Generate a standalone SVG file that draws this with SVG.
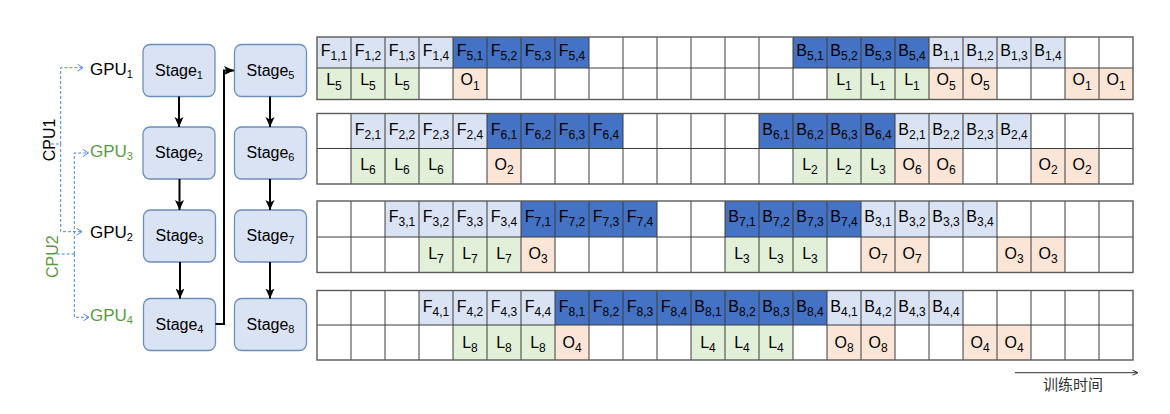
<svg xmlns="http://www.w3.org/2000/svg" width="1170" height="414" viewBox="0 0 1170 414">
<style>
text{font-family:"Liberation Sans",Arial,sans-serif;fill:#000}
.t{font-size:16px;text-anchor:middle}
.s{font-size:11px}
.c .s{font-size:12px}
.lb{fill:#dae3f3}
.db{fill:#4472c4}
.g{fill:#e2f0d9}
.o{fill:#fbe5d6}
.grid{fill:none;stroke:#3c3c3c;stroke-width:1}
.outer{fill:none;stroke:#5a5a5a;stroke-width:1.4}
.stage{fill:#dae3f3;stroke:#6c8ebf;stroke-width:1.3}
.flow{fill:none;stroke:#000;stroke-width:2}
.dash{fill:none;stroke:#4f86e0;stroke-width:1;stroke-dasharray:3 2}
.gpu{font-size:17px}
.green{fill:#5b9b3a}
</style>
<defs>
<marker id="ah" viewBox="0 0 10 10" refX="10" refY="5" markerWidth="10" markerHeight="10" markerUnits="userSpaceOnUse" orient="auto"><path d="M0,0.5 L10,5 L0,9.5 L2.5,5z" fill="#000"/></marker>
<marker id="oa" viewBox="0 0 6 8" refX="6" refY="4" markerWidth="6" markerHeight="8" markerUnits="userSpaceOnUse" orient="auto"><path d="M0.5,0.5 L6,4 L0.5,7.5" fill="none" stroke="#4f86e0" stroke-width="1"/></marker>
<marker id="ta" viewBox="0 0 6 6" refX="6" refY="3" markerWidth="6" markerHeight="6" markerUnits="userSpaceOnUse" orient="auto"><path d="M0.5,0.5 L6,3 L0.5,5.5" fill="none" stroke="#333" stroke-width="1"/></marker>
</defs>

<!-- Stage nodes -->
<g id="stage1"><rect class="stage" x="143" y="44.5" width="72" height="52" rx="7"/><text class="t" x="179" y="75.5">Stage<tspan class="s" dy="3">1</tspan></text></g>
<g id="stage2"><rect class="stage" x="143" y="127" width="72" height="52" rx="7"/><text class="t" x="179" y="158">Stage<tspan class="s" dy="3">2</tspan></text></g>
<g id="stage3"><rect class="stage" x="143.5" y="210" width="72" height="52" rx="7"/><text class="t" x="179.5" y="241">Stage<tspan class="s" dy="3">3</tspan></text></g>
<g id="stage4"><rect class="stage" x="143.5" y="298.5" width="72" height="52" rx="7"/><text class="t" x="179.5" y="329.5">Stage<tspan class="s" dy="3">4</tspan></text></g>
<g id="stage5"><rect class="stage" x="234.5" y="44.5" width="72" height="52" rx="7"/><text class="t" x="270.5" y="75.5">Stage<tspan class="s" dy="3">5</tspan></text></g>
<g id="stage6"><rect class="stage" x="234.5" y="127" width="72" height="52" rx="7"/><text class="t" x="270.5" y="158">Stage<tspan class="s" dy="3">6</tspan></text></g>
<g id="stage7"><rect class="stage" x="234.5" y="210" width="72" height="52" rx="7"/><text class="t" x="270.5" y="241">Stage<tspan class="s" dy="3">7</tspan></text></g>
<g id="stage8"><rect class="stage" x="234.5" y="298.5" width="72" height="52" rx="7"/><text class="t" x="270.5" y="329.5">Stage<tspan class="s" dy="3">8</tspan></text></g>

<!-- GPU / CPU labels -->
<g id="gpu1"><text class="gpu" x="90" y="75">GPU<tspan class="s" dy="3">1</tspan></text></g>
<g id="gpu3"><text class="gpu green" x="90" y="156.7">GPU<tspan class="s" dy="3">3</tspan></text></g>
<g id="gpu2"><text class="gpu" x="90" y="238.3">GPU<tspan class="s" dy="3">2</tspan></text></g>
<g id="gpu4"><text class="gpu green" x="90" y="320.7">GPU<tspan class="s" dy="3">4</tspan></text></g>
<g id="cpu1"><text class="t" transform="translate(55,140) rotate(-90)">CPU1</text></g>
<g id="cpu2"><text class="t green" transform="translate(58,256.7) rotate(-90)">CPU2</text></g>

<!-- Connectors -->
<g id="connectors">
<path class="flow" d="M179,96.5V127" marker-end="url(#ah)"/>
<path class="flow" d="M179.5,179V210" marker-end="url(#ah)"/>
<path class="flow" d="M180,262V298.5" marker-end="url(#ah)"/>
<path class="flow" d="M270,96.5V127" marker-end="url(#ah)"/>
<path class="flow" d="M270,179V210" marker-end="url(#ah)"/>
<path class="flow" d="M270,262V298.5" marker-end="url(#ah)"/>
<path class="flow" d="M215.5,324H224V70.5H234" marker-end="url(#ah)"/>
<path class="dash" d="M51,144H60.7"/>
<path class="dash" d="M60.7,144V67.7H83" marker-end="url(#oa)"/>
<path class="dash" d="M60.7,144V231.7H82" marker-end="url(#oa)"/>
<path class="dash" d="M56.7,254H74.3"/>
<path class="dash" d="M74.3,254V153H88.5" marker-end="url(#oa)"/>
<path class="dash" d="M74.3,254V317.3H89" marker-end="url(#oa)"/>
</g>

<!-- Timeline block 1 (GPU1) -->
<g id="timeline1" class="c">
<rect x="317" y="37" width="816" height="62.5" fill="#fff"/>
<rect class="lb" x="317" y="37" width="34" height="31"/><rect class="lb" x="351" y="37" width="34" height="31"/><rect class="lb" x="385" y="37" width="34" height="31"/><rect class="lb" x="419" y="37" width="34" height="31"/>
<rect class="db" x="453" y="37" width="34" height="31"/><rect class="db" x="487" y="37" width="34" height="31"/><rect class="db" x="521" y="37" width="34" height="31"/><rect class="db" x="555" y="37" width="34" height="31"/>
<rect class="db" x="793" y="37" width="34" height="31"/><rect class="db" x="827" y="37" width="34" height="31"/><rect class="db" x="861" y="37" width="34" height="31"/><rect class="db" x="895" y="37" width="34" height="31"/>
<rect class="lb" x="929" y="37" width="34" height="31"/><rect class="lb" x="963" y="37" width="34" height="31"/><rect class="lb" x="997" y="37" width="34" height="31"/><rect class="lb" x="1031" y="37" width="34" height="31"/>
<rect class="g" x="317" y="68" width="34" height="31.5"/><rect class="g" x="351" y="68" width="34" height="31.5"/><rect class="g" x="385" y="68" width="34" height="31.5"/>
<rect class="o" x="453" y="68" width="34" height="31.5"/>
<rect class="g" x="827" y="68" width="34" height="31.5"/><rect class="g" x="861" y="68" width="34" height="31.5"/><rect class="g" x="895" y="68" width="34" height="31.5"/>
<rect class="o" x="929" y="68" width="34" height="31.5"/><rect class="o" x="963" y="68" width="34" height="31.5"/>
<rect class="o" x="1065" y="68" width="34" height="31.5"/><rect class="o" x="1099" y="68" width="34" height="31.5"/>
<path class="grid" d="M317,68H1133M351,37v62.5M385,37v62.5M419,37v62.5M453,37v62.5M487,37v62.5M521,37v62.5M555,37v62.5M589,37v62.5M623,37v62.5M657,37v62.5M691,37v62.5M725,37v62.5M759,37v62.5M793,37v62.5M827,37v62.5M861,37v62.5M895,37v62.5M929,37v62.5M963,37v62.5M997,37v62.5M1031,37v62.5M1065,37v62.5M1099,37v62.5"/>
<rect class="outer" x="317" y="37" width="816" height="62.5"/>
<text class="t" x="334" y="56">F<tspan class="s" dy="4">1,1</tspan></text>
<text class="t" x="368" y="56">F<tspan class="s" dy="4">1,2</tspan></text>
<text class="t" x="402" y="56">F<tspan class="s" dy="4">1,3</tspan></text>
<text class="t" x="436" y="56">F<tspan class="s" dy="4">1,4</tspan></text>
<text class="t" x="470" y="56">F<tspan class="s" dy="4">5,1</tspan></text>
<text class="t" x="504" y="56">F<tspan class="s" dy="4">5,2</tspan></text>
<text class="t" x="538" y="56">F<tspan class="s" dy="4">5,3</tspan></text>
<text class="t" x="572" y="56">F<tspan class="s" dy="4">5,4</tspan></text>
<text class="t" x="810" y="56">B<tspan class="s" dy="4">5,1</tspan></text>
<text class="t" x="844" y="56">B<tspan class="s" dy="4">5,2</tspan></text>
<text class="t" x="878" y="56">B<tspan class="s" dy="4">5,3</tspan></text>
<text class="t" x="912" y="56">B<tspan class="s" dy="4">5,4</tspan></text>
<text class="t" x="946" y="56">B<tspan class="s" dy="4">1,1</tspan></text>
<text class="t" x="980" y="56">B<tspan class="s" dy="4">1,2</tspan></text>
<text class="t" x="1014" y="56">B<tspan class="s" dy="4">1,3</tspan></text>
<text class="t" x="1048" y="56">B<tspan class="s" dy="4">1,4</tspan></text>
<text class="t" x="334" y="85">L<tspan class="s" dy="5">5</tspan></text>
<text class="t" x="368" y="85">L<tspan class="s" dy="5">5</tspan></text>
<text class="t" x="402" y="85">L<tspan class="s" dy="5">5</tspan></text>
<text class="t" x="470" y="85">O<tspan class="s" dy="5">1</tspan></text>
<text class="t" x="844" y="85">L<tspan class="s" dy="5">1</tspan></text>
<text class="t" x="878" y="85">L<tspan class="s" dy="5">1</tspan></text>
<text class="t" x="912" y="85">L<tspan class="s" dy="5">1</tspan></text>
<text class="t" x="946" y="85">O<tspan class="s" dy="5">5</tspan></text>
<text class="t" x="980" y="85">O<tspan class="s" dy="5">5</tspan></text>
<text class="t" x="1082" y="85">O<tspan class="s" dy="5">1</tspan></text>
<text class="t" x="1116" y="85">O<tspan class="s" dy="5">1</tspan></text>
</g>

<!-- Timeline block 2 (GPU3) -->
<g id="timeline2" class="c">
<rect x="317" y="113.5" width="816" height="70.5" fill="#fff"/>
<rect class="lb" x="351" y="113.5" width="34" height="35"/><rect class="lb" x="385" y="113.5" width="34" height="35"/><rect class="lb" x="419" y="113.5" width="34" height="35"/><rect class="lb" x="453" y="113.5" width="34" height="35"/>
<rect class="db" x="487" y="113.5" width="34" height="35"/><rect class="db" x="521" y="113.5" width="34" height="35"/><rect class="db" x="555" y="113.5" width="34" height="35"/><rect class="db" x="589" y="113.5" width="34" height="35"/>
<rect class="db" x="759" y="113.5" width="34" height="35"/><rect class="db" x="793" y="113.5" width="34" height="35"/><rect class="db" x="827" y="113.5" width="34" height="35"/><rect class="db" x="861" y="113.5" width="34" height="35"/>
<rect class="lb" x="895" y="113.5" width="34" height="35"/><rect class="lb" x="929" y="113.5" width="34" height="35"/><rect class="lb" x="963" y="113.5" width="34" height="35"/><rect class="lb" x="997" y="113.5" width="34" height="35"/>
<rect class="g" x="351" y="148.5" width="34" height="35.5"/><rect class="g" x="385" y="148.5" width="34" height="35.5"/><rect class="g" x="419" y="148.5" width="34" height="35.5"/>
<rect class="o" x="487" y="148.5" width="34" height="35.5"/>
<rect class="g" x="793" y="148.5" width="34" height="35.5"/><rect class="g" x="827" y="148.5" width="34" height="35.5"/><rect class="g" x="861" y="148.5" width="34" height="35.5"/>
<rect class="o" x="895" y="148.5" width="34" height="35.5"/><rect class="o" x="929" y="148.5" width="34" height="35.5"/>
<rect class="o" x="1031" y="148.5" width="34" height="35.5"/><rect class="o" x="1065" y="148.5" width="34" height="35.5"/>
<path class="grid" d="M317,148.5H1133M351,113.5v70.5M385,113.5v70.5M419,113.5v70.5M453,113.5v70.5M487,113.5v70.5M521,113.5v70.5M555,113.5v70.5M589,113.5v70.5M623,113.5v70.5M657,113.5v70.5M691,113.5v70.5M725,113.5v70.5M759,113.5v70.5M793,113.5v70.5M827,113.5v70.5M861,113.5v70.5M895,113.5v70.5M929,113.5v70.5M963,113.5v70.5M997,113.5v70.5M1031,113.5v70.5M1065,113.5v70.5M1099,113.5v70.5"/>
<rect class="outer" x="317" y="113.5" width="816" height="70.5"/>
<text class="t" x="368" y="135">F<tspan class="s" dy="4">2,1</tspan></text>
<text class="t" x="402" y="135">F<tspan class="s" dy="4">2,2</tspan></text>
<text class="t" x="436" y="135">F<tspan class="s" dy="4">2,3</tspan></text>
<text class="t" x="470" y="135">F<tspan class="s" dy="4">2,4</tspan></text>
<text class="t" x="504" y="135">F<tspan class="s" dy="4">6,1</tspan></text>
<text class="t" x="538" y="135">F<tspan class="s" dy="4">6,2</tspan></text>
<text class="t" x="572" y="135">F<tspan class="s" dy="4">6,3</tspan></text>
<text class="t" x="606" y="135">F<tspan class="s" dy="4">6,4</tspan></text>
<text class="t" x="776" y="135">B<tspan class="s" dy="4">6,1</tspan></text>
<text class="t" x="810" y="135">B<tspan class="s" dy="4">6,2</tspan></text>
<text class="t" x="844" y="135">B<tspan class="s" dy="4">6,3</tspan></text>
<text class="t" x="878" y="135">B<tspan class="s" dy="4">6,4</tspan></text>
<text class="t" x="912" y="135">B<tspan class="s" dy="4">2,1</tspan></text>
<text class="t" x="946" y="135">B<tspan class="s" dy="4">2,2</tspan></text>
<text class="t" x="980" y="135">B<tspan class="s" dy="4">2,3</tspan></text>
<text class="t" x="1014" y="135">B<tspan class="s" dy="4">2,4</tspan></text>
<text class="t" x="368" y="170">L<tspan class="s" dy="4">6</tspan></text>
<text class="t" x="402" y="170">L<tspan class="s" dy="4">6</tspan></text>
<text class="t" x="436" y="170">L<tspan class="s" dy="4">6</tspan></text>
<text class="t" x="504" y="170">O<tspan class="s" dy="4">2</tspan></text>
<text class="t" x="810" y="170">L<tspan class="s" dy="4">2</tspan></text>
<text class="t" x="844" y="170">L<tspan class="s" dy="4">2</tspan></text>
<text class="t" x="878" y="170">L<tspan class="s" dy="4">3</tspan></text>
<text class="t" x="912" y="170">O<tspan class="s" dy="4">6</tspan></text>
<text class="t" x="946" y="170">O<tspan class="s" dy="4">6</tspan></text>
<text class="t" x="1048" y="170">O<tspan class="s" dy="4">2</tspan></text>
<text class="t" x="1082" y="170">O<tspan class="s" dy="4">2</tspan></text>
</g>

<!-- Timeline block 3 (GPU2) -->
<g id="timeline3" class="c">
<rect x="317" y="201" width="816" height="71.5" fill="#fff"/>
<rect class="lb" x="385" y="201" width="34" height="36"/><rect class="lb" x="419" y="201" width="34" height="36"/><rect class="lb" x="453" y="201" width="34" height="36"/><rect class="lb" x="487" y="201" width="34" height="36"/>
<rect class="db" x="521" y="201" width="34" height="36"/><rect class="db" x="555" y="201" width="34" height="36"/><rect class="db" x="589" y="201" width="34" height="36"/><rect class="db" x="623" y="201" width="34" height="36"/>
<rect class="db" x="725" y="201" width="34" height="36"/><rect class="db" x="759" y="201" width="34" height="36"/><rect class="db" x="793" y="201" width="34" height="36"/><rect class="db" x="827" y="201" width="34" height="36"/>
<rect class="lb" x="861" y="201" width="34" height="36"/><rect class="lb" x="895" y="201" width="34" height="36"/><rect class="lb" x="929" y="201" width="34" height="36"/><rect class="lb" x="963" y="201" width="34" height="36"/>
<rect class="g" x="419" y="237" width="34" height="35.5"/><rect class="g" x="453" y="237" width="34" height="35.5"/><rect class="g" x="487" y="237" width="34" height="35.5"/>
<rect class="o" x="521" y="237" width="34" height="35.5"/>
<rect class="g" x="725" y="237" width="34" height="35.5"/><rect class="g" x="759" y="237" width="34" height="35.5"/><rect class="g" x="793" y="237" width="34" height="35.5"/>
<rect class="o" x="861" y="237" width="34" height="35.5"/><rect class="o" x="895" y="237" width="34" height="35.5"/>
<rect class="o" x="997" y="237" width="34" height="35.5"/><rect class="o" x="1031" y="237" width="34" height="35.5"/>
<path class="grid" d="M317,237H1133M351,201v71.5M385,201v71.5M419,201v71.5M453,201v71.5M487,201v71.5M521,201v71.5M555,201v71.5M589,201v71.5M623,201v71.5M657,201v71.5M691,201v71.5M725,201v71.5M759,201v71.5M793,201v71.5M827,201v71.5M861,201v71.5M895,201v71.5M929,201v71.5M963,201v71.5M997,201v71.5M1031,201v71.5M1065,201v71.5M1099,201v71.5"/>
<rect class="outer" x="317" y="201" width="816" height="71.5"/>
<text class="t" x="402" y="222">F<tspan class="s" dy="4">3,1</tspan></text>
<text class="t" x="436" y="222">F<tspan class="s" dy="4">3,2</tspan></text>
<text class="t" x="470" y="222">F<tspan class="s" dy="4">3,3</tspan></text>
<text class="t" x="504" y="222">F<tspan class="s" dy="4">3,4</tspan></text>
<text class="t" x="538" y="222">F<tspan class="s" dy="4">7,1</tspan></text>
<text class="t" x="572" y="222">F<tspan class="s" dy="4">7,2</tspan></text>
<text class="t" x="606" y="222">F<tspan class="s" dy="4">7,3</tspan></text>
<text class="t" x="640" y="222">F<tspan class="s" dy="4">7,4</tspan></text>
<text class="t" x="742" y="222">B<tspan class="s" dy="4">7,1</tspan></text>
<text class="t" x="776" y="222">B<tspan class="s" dy="4">7,2</tspan></text>
<text class="t" x="810" y="222">B<tspan class="s" dy="4">7,3</tspan></text>
<text class="t" x="844" y="222">B<tspan class="s" dy="4">7,4</tspan></text>
<text class="t" x="878" y="222">B<tspan class="s" dy="4">3,1</tspan></text>
<text class="t" x="912" y="222">B<tspan class="s" dy="4">3,2</tspan></text>
<text class="t" x="946" y="222">B<tspan class="s" dy="4">3,3</tspan></text>
<text class="t" x="980" y="222">B<tspan class="s" dy="4">3,4</tspan></text>
<text class="t" x="436" y="258.5">L<tspan class="s" dy="4">7</tspan></text>
<text class="t" x="470" y="258.5">L<tspan class="s" dy="4">7</tspan></text>
<text class="t" x="504" y="258.5">L<tspan class="s" dy="4">7</tspan></text>
<text class="t" x="538" y="258.5">O<tspan class="s" dy="4">3</tspan></text>
<text class="t" x="742" y="258.5">L<tspan class="s" dy="4">3</tspan></text>
<text class="t" x="776" y="258.5">L<tspan class="s" dy="4">3</tspan></text>
<text class="t" x="810" y="258.5">L<tspan class="s" dy="4">3</tspan></text>
<text class="t" x="878" y="258.5">O<tspan class="s" dy="4">7</tspan></text>
<text class="t" x="912" y="258.5">O<tspan class="s" dy="4">7</tspan></text>
<text class="t" x="1014" y="258.5">O<tspan class="s" dy="4">3</tspan></text>
<text class="t" x="1048" y="258.5">O<tspan class="s" dy="4">3</tspan></text>
</g>

<!-- Timeline block 4 (GPU4) -->
<g id="timeline4" class="c">
<rect x="317" y="290.5" width="816" height="69.5" fill="#fff"/>
<rect class="lb" x="419" y="290.5" width="34" height="34.5"/><rect class="lb" x="453" y="290.5" width="34" height="34.5"/><rect class="lb" x="487" y="290.5" width="34" height="34.5"/><rect class="lb" x="521" y="290.5" width="34" height="34.5"/>
<rect class="db" x="555" y="290.5" width="34" height="34.5"/><rect class="db" x="589" y="290.5" width="34" height="34.5"/><rect class="db" x="623" y="290.5" width="34" height="34.5"/><rect class="db" x="657" y="290.5" width="34" height="34.5"/>
<rect class="db" x="691" y="290.5" width="34" height="34.5"/><rect class="db" x="725" y="290.5" width="34" height="34.5"/><rect class="db" x="759" y="290.5" width="34" height="34.5"/><rect class="db" x="793" y="290.5" width="34" height="34.5"/>
<rect class="lb" x="827" y="290.5" width="34" height="34.5"/><rect class="lb" x="861" y="290.5" width="34" height="34.5"/><rect class="lb" x="895" y="290.5" width="34" height="34.5"/><rect class="lb" x="929" y="290.5" width="34" height="34.5"/>
<rect class="g" x="453" y="325" width="34" height="35"/><rect class="g" x="487" y="325" width="34" height="35"/><rect class="g" x="521" y="325" width="34" height="35"/>
<rect class="o" x="555" y="325" width="34" height="35"/>
<rect class="g" x="691" y="325" width="34" height="35"/><rect class="g" x="725" y="325" width="34" height="35"/><rect class="g" x="759" y="325" width="34" height="35"/>
<rect class="o" x="827" y="325" width="34" height="35"/><rect class="o" x="861" y="325" width="34" height="35"/>
<rect class="o" x="963" y="325" width="34" height="35"/><rect class="o" x="997" y="325" width="34" height="35"/>
<path class="grid" d="M317,325H1133M351,290.5v69.5M385,290.5v69.5M419,290.5v69.5M453,290.5v69.5M487,290.5v69.5M521,290.5v69.5M555,290.5v69.5M589,290.5v69.5M623,290.5v69.5M657,290.5v69.5M691,290.5v69.5M725,290.5v69.5M759,290.5v69.5M793,290.5v69.5M827,290.5v69.5M861,290.5v69.5M895,290.5v69.5M929,290.5v69.5M963,290.5v69.5M997,290.5v69.5M1031,290.5v69.5M1065,290.5v69.5M1099,290.5v69.5"/>
<rect class="outer" x="317" y="290.5" width="816" height="69.5"/>
<text class="t" x="436" y="311.5">F<tspan class="s" dy="4">4,1</tspan></text>
<text class="t" x="470" y="311.5">F<tspan class="s" dy="4">4,2</tspan></text>
<text class="t" x="504" y="311.5">F<tspan class="s" dy="4">4,3</tspan></text>
<text class="t" x="538" y="311.5">F<tspan class="s" dy="4">4,4</tspan></text>
<text class="t" x="572" y="311.5">F<tspan class="s" dy="4">8,1</tspan></text>
<text class="t" x="606" y="311.5">F<tspan class="s" dy="4">8,2</tspan></text>
<text class="t" x="640" y="311.5">F<tspan class="s" dy="4">8,3</tspan></text>
<text class="t" x="674" y="311.5">F<tspan class="s" dy="4">8,4</tspan></text>
<text class="t" x="708" y="311.5">B<tspan class="s" dy="4">8,1</tspan></text>
<text class="t" x="742" y="311.5">B<tspan class="s" dy="4">8,2</tspan></text>
<text class="t" x="776" y="311.5">B<tspan class="s" dy="4">8,3</tspan></text>
<text class="t" x="810" y="311.5">B<tspan class="s" dy="4">8,4</tspan></text>
<text class="t" x="844" y="311.5">B<tspan class="s" dy="4">4,1</tspan></text>
<text class="t" x="878" y="311.5">B<tspan class="s" dy="4">4,2</tspan></text>
<text class="t" x="912" y="311.5">B<tspan class="s" dy="4">4,3</tspan></text>
<text class="t" x="946" y="311.5">B<tspan class="s" dy="4">4,4</tspan></text>
<text class="t" x="470" y="348">L<tspan class="s" dy="4">8</tspan></text>
<text class="t" x="504" y="348">L<tspan class="s" dy="4">8</tspan></text>
<text class="t" x="538" y="348">L<tspan class="s" dy="4">8</tspan></text>
<text class="t" x="572" y="348">O<tspan class="s" dy="4">4</tspan></text>
<text class="t" x="708" y="348">L<tspan class="s" dy="4">4</tspan></text>
<text class="t" x="742" y="348">L<tspan class="s" dy="4">4</tspan></text>
<text class="t" x="776" y="348">L<tspan class="s" dy="4">4</tspan></text>
<text class="t" x="844" y="348">O<tspan class="s" dy="4">8</tspan></text>
<text class="t" x="878" y="348">O<tspan class="s" dy="4">8</tspan></text>
<text class="t" x="980" y="348">O<tspan class="s" dy="4">4</tspan></text>
<text class="t" x="1014" y="348">O<tspan class="s" dy="4">4</tspan></text>
</g>

<!-- Time axis -->
<g id="time-axis">
<path d="M1015,372.7H1138" fill="none" stroke="#333" stroke-width="1" marker-end="url(#ta)"/>
<text x="1073" y="390" style="font-family:'Noto Sans CJK SC','Liberation Sans',sans-serif;font-size:15px;text-anchor:middle;fill:#333">训练时间</text>
</g>
</svg>
